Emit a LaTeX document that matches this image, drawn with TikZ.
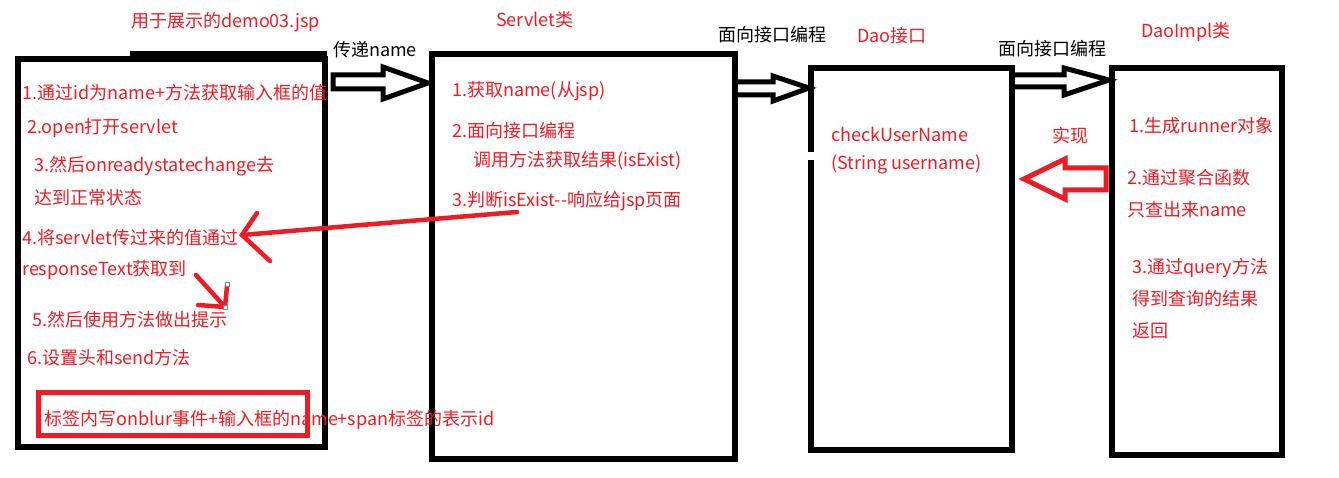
\documentclass[tikz,border=0pt]{standalone}
\usepackage{fontspec}
\setmainfont{Noto Sans CJK SC}
\definecolor{txtred}{RGB}{237,28,36}
\tikzset{
  lbl/.style={anchor=west,inner sep=0pt,font=\fontsize{18}{21}\selectfont},
  redlbl/.style={lbl,text=txtred},
  frame/.style={line width=5.5pt},
  hollow/.style={line width=5pt,line join=miter},
  redpen/.style={draw=txtred,line width=4.5pt,line cap=round}
}

\begin{document}
\begin{tikzpicture}[x=1pt,y=-1pt]
	\useasboundingbox (0,0) rectangle (1339,478);
	
	%FRAMES
	\draw[frame] (18,59) rectangle (325,447);		%jsp page
	\draw[frame] (130,54)--(327,54);			%jsp top step
	\draw[frame] (432,54) rectangle (735,459);		%servlet
	\draw[frame] (811,152)--(811,68)--(1012,68)--(1012,450)--(811,450)--(811,160); %dao, broken left side
	\draw[frame] (1112,68) rectangle (1282,455);		%daoimpl
	\draw[draw=txtred,line width=5pt] (38,392) rectangle (307,435); %tag box
	
	%BLOCK ARROWS
	\draw[hollow] (333,75)--(383,75)--(383,67)--(428,83)--(383,99)--(383,89)--(333,89)--cycle;
	\draw[hollow] (737,82)--(773,82)--(773,76)--(809,88)--(773,101)--(773,95)--(737,95);
	\draw[hollow] (1014,75)--(1064,75)--(1064,68)--(1109,80)--(1064,95)--(1064,87)--(1014,87);
	\draw[hollow,draw=txtred] (1106,168)--(1065,168)--(1065,159)--(1024,179)--(1065,199)--(1065,190)--(1106,190)--cycle;
	
	%TITLES
	\node[redlbl] (tjsp)  at (131,22) {用于展示的demo03.jsp};
	\node[lbl]    (tpass) at (333,50) {传递name};
	\node[redlbl] (tsrv)  at (496,20) {Servlet类};
	\node[lbl]    (tif1)  at (718,35) {面向接口编程};
	\node[redlbl] (tdao)  at (857,36) {Dao接口};
	\node[lbl]    (tif2)  at (998,49) {面向接口编程};
	\node[redlbl] (timpl) at (1141,32) {DaoImpl类};
	
	%JSP STEPS
	\node[redlbl] (j1)  at (22,93)  {1.通过id为name+方法获取输入框的值};
	\node[redlbl] (j2)  at (27,128) {2.open打开servlet};
	\node[redlbl] (j3)  at (34,166) {3.然后onreadystatechange去};
	\node[redlbl] (j3b) at (34,198) {达到正常状态};
	\node[redlbl] (j4)  at (22,238) {4.将servlet传过来的值通过};
	\node[redlbl] (j4b) at (22,270) {responseText获取到};
	\node[redlbl] (j5)  at (32,320) {5.然后使用方法做出提示};
	\node[redlbl] (j6)  at (27,358) {6.设置头和send方法};
	\node[redlbl] (jtag) at (44,420) {标签内写onblur事件+输入框的name+span标签的表示id};
	
	%SERVLET STEPS
	\node[redlbl] (s1)  at (452,91)  {1.获取name(从jsp)};
	\node[redlbl] (s2)  at (452,131) {2.面向接口编程};
	\node[redlbl] (s2b) at (473,161) {调用方法获取结果(isExist)};
	\node[redlbl] (s3)  at (452,201) {3.判断isExist-{}-响应给jsp页面};
	
	%DAO
	\node[redlbl] (d1)  at (831,134) {checkUserName};
	\node[redlbl] (d1b) at (831,164) {(String username)};
	\node[redlbl] (real) at (1052,136) {实现};
	
	%DAOIMPL STEPS
	\node[redlbl] (i1)  at (1129,126) {1.生成runner对象};
	\node[redlbl] (i2)  at (1127,178) {2.通过聚合函数};
	\node[redlbl] (i2b) at (1127,210) {只查出来name};
	\node[redlbl] (i3)  at (1132,268) {3.通过query方法};
	\node[redlbl] (i3b) at (1132,299) {得到查询的结果};
	\node[redlbl] (i3c) at (1132,331) {返回};
	
	%HAND ARROWS
	\coordinate (rs) at (517,212);
	\coordinate (rt) at (242,235);
	\draw[redpen] (rs)--(rt);
	\draw[redpen] (257,213)--(rt)--(270,261);
	\coordinate (ps) at (196,275);
	\coordinate (pt) at (225,307);
	\draw[redpen] (ps)--(pt);
	\draw[redpen] (198,305)--(pt)--(227,286);
	\draw[gray,fill=white,line width=0.8pt] (225,282) rectangle (229,286);
	\draw[gray,fill=white,line width=0.8pt] (223,305) rectangle (227,309);
	
\end{tikzpicture}
\end{document}
